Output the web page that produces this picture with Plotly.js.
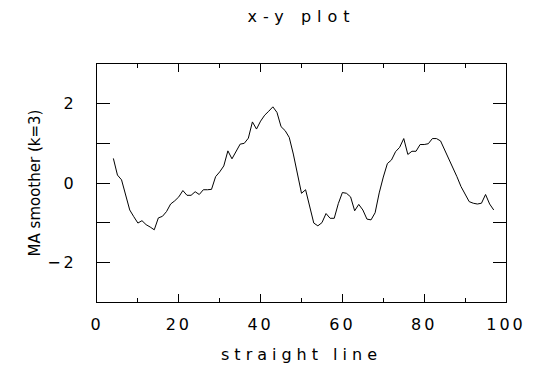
<!DOCTYPE html>
<html>
<head>
<meta charset="utf-8">
<script src="https://cdn.plot.ly/plotly-3.0.1.min.js"></script>
<style>
  html, body { margin: 0; padding: 0; background: #fff; }
  #chart { width: 536px; height: 375px; }
  .gtitle { letter-spacing: 6px; }
  .xtitle { letter-spacing: 5px; }
  .ytitle { letter-spacing: 0px; }
  .xtick text, .ytick text { letter-spacing: 3px; }
</style>
</head>
<body>
<div id="chart"></div>
<script>
// x positions (index of the straight line) and MA smoother (k=3) values
const xValues = [4, 5, 6, 7, 8, 9, 10, 11, 12, 13,
  14, 15, 16, 17, 18, 19, 20, 21, 22, 23,
  24, 25, 26, 27, 28, 29, 30, 31, 32, 33,
  34, 35, 36, 37, 38, 39, 40, 41, 42, 43,
  44, 45, 46, 47, 48, 49, 50, 51, 52, 53,
  54, 55, 56, 57, 58, 59, 60, 61, 62, 63,
  64, 65, 66, 67, 68, 69, 70, 71, 72, 73,
  74, 75, 76, 77, 78, 79, 80, 81, 82, 83,
  84, 85, 86, 87, 88, 89, 90, 91, 92, 93,
  94, 95, 96, 97];
const maValues = [0.62, 0.20, 0.08, -0.32, -0.68, -0.85, -1.01, -0.95, -1.05, -1.11,
  -1.18, -0.88, -0.84, -0.72, -0.53, -0.45, -0.35, -0.19, -0.31, -0.31,
  -0.22, -0.29, -0.17, -0.17, -0.16, 0.16, 0.28, 0.43, 0.81, 0.61,
  0.79, 0.98, 1.00, 1.13, 1.54, 1.36, 1.56, 1.71, 1.81, 1.92,
  1.78, 1.42, 1.32, 1.15, 0.73, 0.22, -0.26, -0.17, -0.59, -1.01,
  -1.08, -1.00, -0.77, -0.89, -0.89, -0.52, -0.24, -0.26, -0.35, -0.70,
  -0.54, -0.68, -0.91, -0.93, -0.75, -0.25, 0.15, 0.49, 0.58, 0.79,
  0.90, 1.12, 0.72, 0.80, 0.80, 0.97, 0.97, 0.99, 1.12, 1.12,
  1.06, 0.84, 0.62, 0.42, 0.16, -0.09, -0.28, -0.47, -0.51, -0.53,
  -0.51, -0.29, -0.53, -0.68];

const xTickVals = [0, 20, 40, 60, 80, 100];
const xTickText = ['0', '20', '40', '60', '80', '100'];
const yTickVals = [-2, -1, 0, 1, 2];
const yTickText = ['\u22122', '', '0', '', '2'];

const font = 'DejaVu Sans, Liberation Sans, sans-serif';

const trace = {
  x: xValues,
  y: maValues,
  type: 'scatter',
  mode: 'lines',
  line: { color: '#000', width: 1 },
  hoverinfo: 'skip'
};

const layout = {
  width: 536,
  height: 375,
  margin: { l: 97, r: 30, t: 64, b: 73, pad: 0 },
  paper_bgcolor: '#fff',
  plot_bgcolor: '#fff',
  showlegend: false,
  font: { family: font, color: '#000', size: 16 },
  title: {
    text: 'x-y plot',
    font: { family: font, size: 16, color: '#000' },
    x: 0.5625, xref: 'container', xanchor: 'center',
    y: 0.955, yref: 'container', yanchor: 'middle'
  },
  xaxis: {
    range: [0, 100],
    tickmode: 'array',
    tickvals: xTickVals,
    ticktext: xTickText,
    ticks: 'inside',
    ticklen: 8,
    tickwidth: 1,
    tickcolor: '#000',
    minor: { dtick: 10, tick0: 0, ticks: 'inside', ticklen: 4, tickwidth: 1, tickcolor: '#000', showgrid: false },
    showline: true,
    linecolor: '#000',
    linewidth: 1,
    mirror: 'allticks',
    showgrid: false,
    zeroline: false,
    tickfont: { family: font, size: 16, color: '#000' },
    ticklabelstandoff: 8,
    title: { text: 'straight line', font: { family: font, size: 16, color: '#000' }, standoff: 15 }
  },
  yaxis: {
    range: [-3, 3],
    tickmode: 'array',
    tickvals: yTickVals,
    ticktext: yTickText,
    ticks: 'inside',
    ticklen: 13,
    tickwidth: 1,
    tickcolor: '#000',
    showline: true,
    linecolor: '#000',
    linewidth: 1,
    mirror: 'allticks',
    showgrid: false,
    zeroline: false,
    tickfont: { family: font, size: 16, color: '#000' },
    ticklabelstandoff: 16,
    title: { text: 'MA smoother (k=3)', font: { family: font, size: 15, color: '#000' }, standoff: 2 }
  }
};

Plotly.newPlot('chart', [trace], layout, { staticPlot: true, displayModeBar: false });
</script>
</body>
</html>
